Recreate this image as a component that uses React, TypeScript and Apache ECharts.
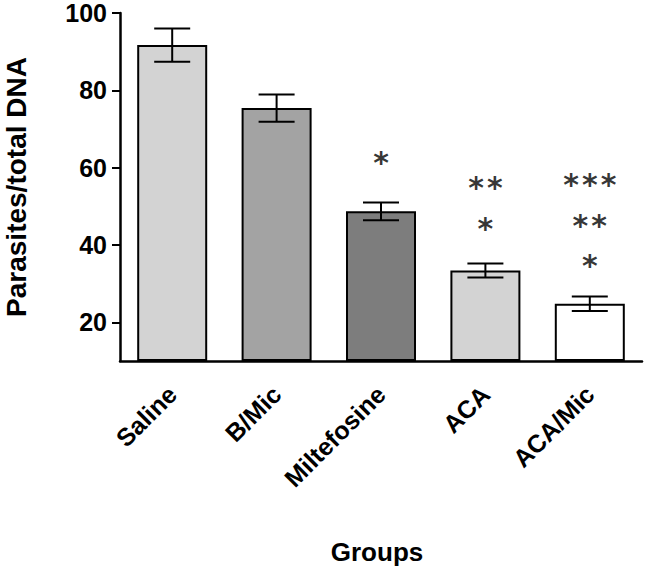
import React, { useEffect, useRef } from "react";
import * as echarts from "echarts";

const categories = ["Saline", "B/Mic", "Miltefosine", "ACA", "ACA/Mic"];
const means = [91.7, 75.4, 48.7, 33.4, 24.8];
const errors = [4.3, 3.5, 2.3, 1.8, 1.9];
const barColors = ["#d3d3d3", "#a3a3a3", "#7d7d7d", "#d3d3d3", "#ffffff"];
const yTickValues = [20, 40, 60, 80, 100];
const starCategory = [2, 3, 3, 4, 4, 4];
const starValue = [62.3, 55.8, 45.4, 56.6, 46.2, 35.8];
const starText = ["*", "**", "*", "***", "**", "*"];

const FONT = "'Liberation Sans', Arial, sans-serif";

export default function App() {
  const ref = useRef<HTMLDivElement>(null);
  useEffect(() => {
    if (!ref.current) return;
    const chart = echarts.init(ref.current, null, { renderer: "svg" });
    const hs = "\u200A";
    chart.setOption({
      animation: false,
      backgroundColor: "#ffffff",
      grid: { left: 120, right: 5, top: 13, bottom: 211, outerBoundsMode: "none", containLabel: false },
      xAxis: {
        type: "category",
        data: categories,
        name: "Groups",
        nameLocation: "middle",
        nameGap: 178,
        nameTextStyle: { fontFamily: FONT, fontWeight: "bold", fontSize: 26, color: "#000", padding: [0, 8, 0, 0] },
        axisLine: { lineStyle: { color: "#000", width: 2.5 } },
        axisTick: { alignWithLabel: true, length: 8, lineStyle: { color: "#000", width: 2 } },
        axisLabel: {
          rotate: 45,
          margin: 29,
          fontFamily: FONT,
          fontWeight: "bold",
          fontSize: 25,
          color: "#000",
        },
      },
      yAxis: {
        type: "value",
        min: 10,
        max: 100,
        startValue: 10,
        name: "Parasites/total DNA",
        nameLocation: "middle",
        nameGap: 90,
        nameTextStyle: { fontFamily: FONT, fontWeight: "bold", fontSize: 28, lineHeight: 28, color: "#000" },
        splitLine: { show: false },
        axisLine: { show: true, lineStyle: { color: "#000", width: 2.5 } },
        axisTick: { show: true, length: 8, customValues: yTickValues, lineStyle: { color: "#000", width: 2 } },
        axisLabel: {
          customValues: yTickValues,
          margin: 13,
          fontFamily: FONT,
          fontWeight: "bold",
          fontSize: 25,
          lineHeight: 18,
          color: "#000",
        },
      },
      series: [
        {
          type: "bar",
          barWidth: 70,
          clip: true,
          data: means.map((v, i) => ({
            value: v,
            itemStyle: { color: barColors[i], borderColor: "#000", borderWidth: 2 },
          })),
        },
        {
          type: "custom",
          data: means.map((m, i) => [i, m, errors[i]]),
          renderItem: (params: any, api: any) => {
            const x = api.value(0);
            const m = api.value(1);
            const e = api.value(2);
            const top = api.coord([x, m + e]);
            const bot = api.coord([x, m - e]);
            const hw = 18;
            const style = { stroke: "#000", lineWidth: 2 };
            return {
              type: "group",
              children: [
                { type: "line", shape: { x1: top[0], y1: top[1], x2: bot[0], y2: bot[1] }, style },
                { type: "line", shape: { x1: top[0] - hw, y1: top[1], x2: top[0] + hw, y2: top[1] }, style },
                { type: "line", shape: { x1: bot[0] - hw, y1: bot[1], x2: bot[0] + hw, y2: bot[1] }, style },
              ],
            };
          },
          z: 5,
        },
        {
          type: "scatter",
          symbolSize: 0,
          data: starCategory.map((c, i) => ({ value: [c, starValue[i]], name: starText[i] })),
          label: {
            show: true,
            position: "inside",
            offset: [0, 4],
            formatter: (p: any) => p.name.split("").join(hs),
            fontFamily: "'DejaVu Sans', sans-serif",
            fontWeight: "bold",
            fontSize: 30,
            color: "#000",
          },
          z: 6,
        },
      ],
    });
    return () => chart.dispose();
  }, []);
  return (
    <div
      ref={ref}
      style={{ position: "absolute", left: 0, top: 0, width: 647, height: 572 }}
    />
  );
}
